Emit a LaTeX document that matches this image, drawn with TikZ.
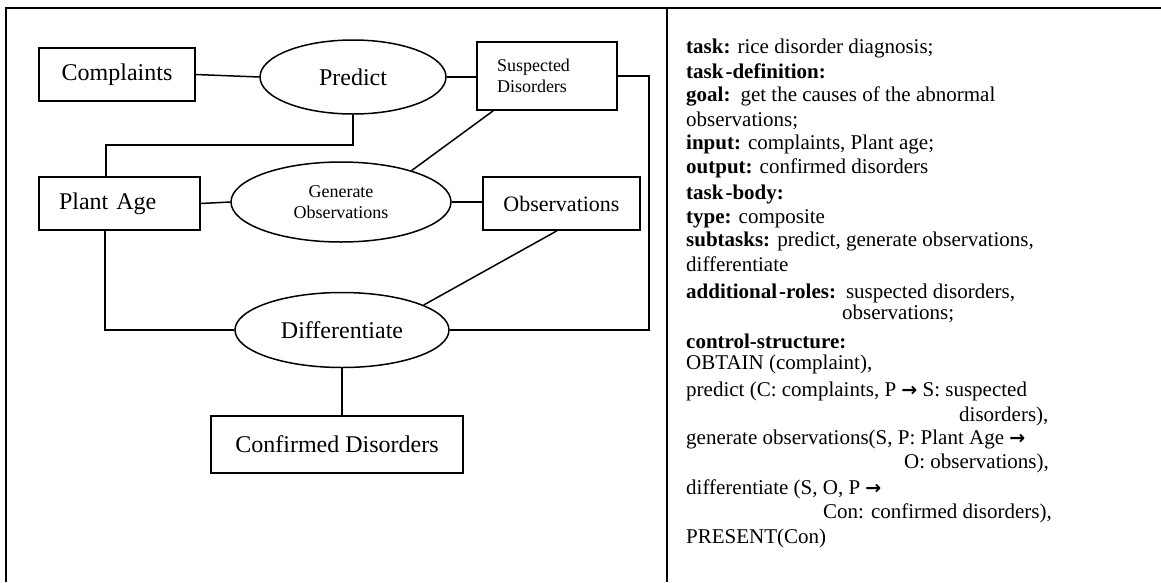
\documentclass[tikz,border=0pt]{standalone}
\usepackage{fontspec}
\setmainfont{Liberation Serif}
\newfontfamily\arrowfont{DejaVu Sans}
\usetikzlibrary{shapes.geometric}
\newcommand{\rarr}{{\arrowfont\bfseries\fontsize{19}{24}\selectfont →}}
\tikzset{
  box/.style={draw, rectangle, line width=1.5pt, inner sep=0pt},
  oval/.style={draw, ellipse, line width=1.5pt, inner sep=0pt},
  conn/.style={line width=1.5pt},
  frameline/.style={line width=2pt},
  big/.style={font=\fontsize{24}{28}\selectfont},
  small/.style={font=\fontsize{18}{21}\selectfont},
  txt/.style={anchor=base west, inner sep=0pt, font=\fontsize{21}{24}\selectfont},
}
\begin{document}
\begin{tikzpicture}[x=1pt, y=-1pt]
\useasboundingbox (0,0) rectangle (1161,582);

% outer frame and column divider
\draw[frameline] (6,582) -- (6,8);
\draw[frameline, line width=2.5pt] (5,8) -- (1161,8);
\draw[frameline] (667,8) -- (667,582);

% left column: task decomposition diagram
\node[box, big, minimum width=156pt, minimum height=53pt] (compl) at (117,74.5) {Complaints};
\node[oval, big, minimum width=186pt, minimum height=74pt] (pred) at (353,77) {Predict};
\node[box, small, minimum width=140pt, minimum height=68pt, text width=100pt, inner xsep=20pt, align=left] (susp) at (547,76) {Suspected\\Disorders};
\node[box, big, minimum width=161pt, minimum height=53pt, text width=121pt, inner xsep=20pt, align=left] (plant) at (119.5,203.5) {Plant Age};
\node[oval, small, minimum width=220pt, minimum height=80pt, align=center] (gen) at (341,202) {Generate\\Observations};
\node[box, font=\fontsize{22}{26}\selectfont, minimum width=157pt, minimum height=53pt] (obs) at (561.5,203.5) {Observations};
\node[oval, big, minimum width=214pt, minimum height=75pt] (diff) at (342,330) {Differentiate};
\node[box, big, minimum width=252pt, minimum height=57pt] (conf) at (337,444.5) {Confirmed Disorders};

\draw[conn] (compl.east) -- (pred.west);
\draw[conn] (pred.east) -- (pred.east -| susp.west);
\draw[conn] (pred.south) -- ++(0,30) -| ([xshift=-13.5pt]plant.north);
\draw[conn] ([xshift=17pt]susp.south west) -- (gen.24);
\draw[conn] (susp.east) -- ++(31,0) |- (diff.east);
\draw[conn] (plant.east) -- (gen.west);
\draw[conn] (gen.east) -- (gen.east -| obs.west);
\draw[conn] ([xshift=-4.5pt]obs.south) -- (diff.17);
\draw[conn] ([xshift=-14.5pt]plant.south) |- (diff.west);
\draw[conn] (diff.south) -- (diff.south |- conf.north);

% right column: task specification
\node[txt] (t1) at (686,53) {\textbf{task:} rice disorder diagnosis;};
\node[txt] (t2) at (686,78) {\textbf{task\kern2pt-definition:}};
\node[txt] (t3) at (686,101) {\textbf{goal:}\hspace{3pt} get the causes of the abnormal};
\node[txt] (t4) at (686,126) {observations;};
\node[txt] (t5) at (686,149) {\textbf{input:} complaints, Plant age;};
\node[txt] (t6) at (686,173) {\textbf{output:} confirmed disorders};
\node[txt] (t7) at (686,199) {\textbf{task\kern2pt-body:}};
\node[txt] (t8) at (686,223) {\textbf{type:} composite};
\node[txt] (t9) at (686,246) {\textbf{subtasks:} predict, generate observations,};
\node[txt] (t10) at (686,271) {differentiate};
\node[txt] (t11) at (686,298) {\textbf{additional\kern2pt-roles:}\hspace{3pt} suspected disorders,};
\node[txt] (t12) at (842,319) {observations;};
\node[txt] (t13) at (686,348) {\textbf{control-structure:}};
\node[txt] (t14) at (686,369) {OBTAIN (complaint),};
\node[txt] (t15) at (686,396) {predict (C: complaints, P \rarr\ S: suspected};
\node[txt] (t16) at (959,421) {disorders),};
\node[txt] (t17) at (686,444) {generate observations(S, P: Plant Age \rarr};
\node[txt] (t18) at (904,468) {O: observations),};
\node[txt] (t19) at (686,494) {differentiate (S, O, P \rarr};
\node[txt] (t20) at (823,518) {Con: confirmed disorders),};
\node[txt] (t21) at (686,543) {PRESENT(Con)};
\end{tikzpicture}
\end{document}
